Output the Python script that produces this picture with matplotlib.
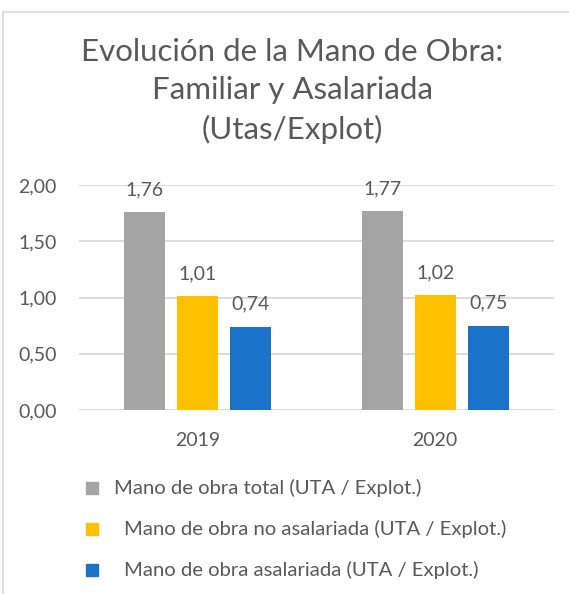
import numpy as np
import matplotlib
matplotlib.use('Agg')
import matplotlib.pyplot as plt
from matplotlib.patches import Rectangle
from matplotlib.lines import Line2D

plt.rcParams['font.family'] = ['Lato', 'DejaVu Sans']

years = ['2019', '2020']
series_names = ['Mano de obra total (UTA / Explot.)',
                'Mano de obra no asalariada (UTA / Explot.)',
                'Mano de obra asalariada (UTA / Explot.)']
total = [1.76, 1.77]
no_asalariada = [1.01, 1.02]
asalariada = [0.74, 0.75]
yticks = [0.0, 0.5, 1.0, 1.5, 2.0]

colors = ['#A5A5A5', '#FFC000', '#1A73C8']
text_col = '#595959'
grid_col = '#D9D9D9'

fig = plt.figure(figsize=(5.69, 5.94), dpi=100)
ax = fig.add_axes([79/569, 1-410/594, (554-79)/569, 225/594])

x = np.arange(len(years))
width = 0.173
offsets = [-0.224, 0.0, 0.224]
values = [total, no_asalariada, asalariada]

for vals, off, c in zip(values, offsets, colors):
    bars = ax.bar(x + off, vals, width, color=c, zorder=3)
    for b, v in zip(bars, vals):
        ax.annotate(f'{v:.2f}'.replace('.', ','),
                    (b.get_x() + b.get_width()/2, v),
                    xytext=(0, 10), textcoords='offset points',
                    ha='center', va='bottom', fontsize=14, color=text_col)

ax.set_xlim(-0.5, 1.5)
ax.set_ylim(0, 2)
ax.set_yticks(yticks)
ax.set_yticklabels([f'{t:.2f}'.replace('.', ',') for t in yticks])
ax.set_xticks(x)
ax.set_xticklabels(years)
ax.tick_params(length=0, labelsize=14, colors=text_col)
ax.tick_params(axis='y', pad=16)
ax.tick_params(axis='x', pad=16)
ax.grid(axis='y', color=grid_col, linewidth=1.3, zorder=0)
for s in ax.spines.values():
    s.set_visible(False)

fig.text(292/569, 1-91/594, 'Evolución de la Mano de Obra:\nFamiliar y Asalariada\n(Utas/Explot)',
         ha='center', va='center', fontsize=22.5, color=text_col, linespacing=1.43)

# legend drawn by hand to keep the odd indents of the original
leg_y = [488, 529, 570]
leg_tx = [114, 124, 124]
for name, c, yy, tx in zip(series_names, colors, leg_y, leg_tx):
    fig.add_artist(Rectangle((86/569, 1-(yy+6)/594), 12/569, 12/594,
                             transform=fig.transFigure, color=c))
    fig.text(tx/569, 1-yy/594, name, ha='left', va='center',
             fontsize=14.6, color=text_col)

# chart frame (left and top edges only are visible)
fig.add_artist(Line2D([3/569, 3/569], [0, 1-12/594], transform=fig.transFigure,
                      color=grid_col, linewidth=1.2))
fig.add_artist(Line2D([3/569, 1], [1-12/594, 1-12/594], transform=fig.transFigure,
                      color=grid_col, linewidth=1.2))

fig.savefig('out.png', dpi=100)
